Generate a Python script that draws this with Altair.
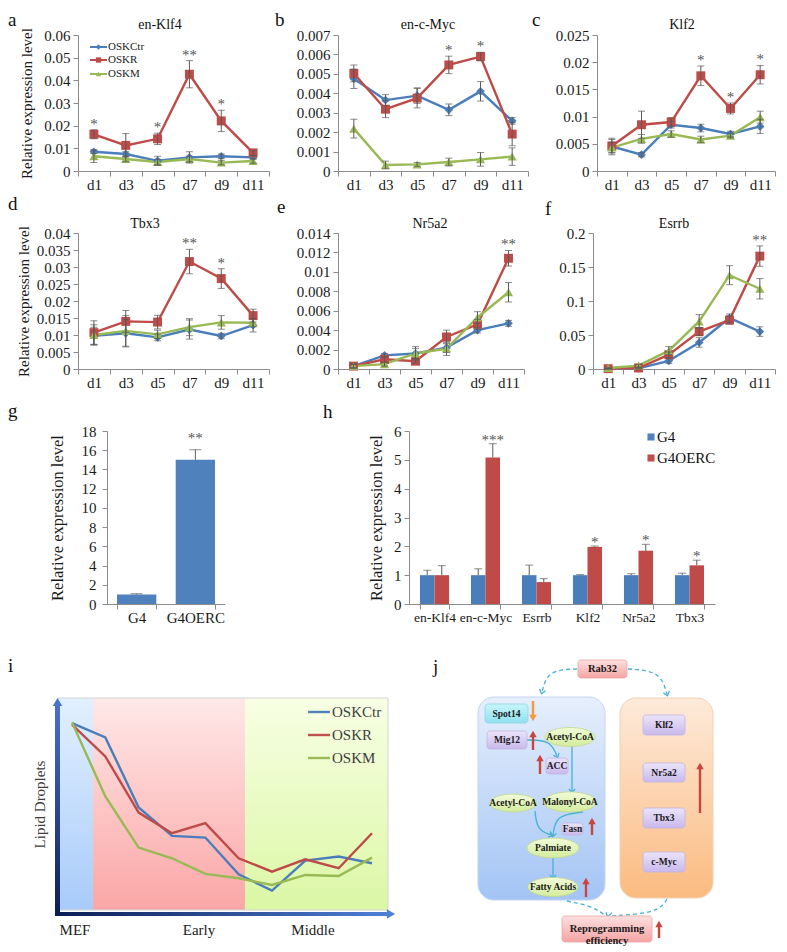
import math
import altair as alt
import pandas as pd

FONT = "Liberation Serif"

# ======================= DATA =======================
days = ["d1", "d3", "d5", "d7", "d9", "d11"]
series = ["OSKCtr", "OSKR", "OSKM"]

# a  en-Klf4
klf4_ctr = [0.0085, 0.0075, 0.0045, 0.0060, 0.0065, 0.0060]
klf4_r = [0.0162, 0.0113, 0.0142, 0.0427, 0.0221, 0.0080]
klf4_m = [0.0065, 0.0053, 0.0040, 0.0053, 0.0037, 0.0044]
klf4_ctr_err = [0.0008, 0.0010, 0.0020, 0.0025, 0.0010, 0.0008]
klf4_r_err = [0.0020, 0.0052, 0.0025, 0.0060, 0.0047, 0.0010]
klf4_m_err = [0.0028, 0.0012, 0.0012, 0.0012, 0.0010, 0.0010]
klf4_stars = ["*", "", "*", "**", "*", ""]
klf4_ticks = [0, 0.01, 0.02, 0.03, 0.04, 0.05, 0.06]

# b  en-c-Myc
myc_ctr = [0.00475, 0.00365, 0.00388, 0.00315, 0.00410, 0.00258]
myc_r = [0.00502, 0.00318, 0.00375, 0.00546, 0.00589, 0.00190]
myc_m = [0.00218, 0.00031, 0.00034, 0.00046, 0.00060, 0.00074]
myc_ctr_err = [0.0005, 0.00028, 0.0004, 0.0003, 0.0005, 0.00017]
myc_r_err = [0.00043, 0.00043, 0.0005, 0.00045, 0.00022, 0.0006]
myc_m_err = [0.00048, 0.0002, 0.0001, 0.0002, 0.00035, 0.00045]
myc_stars = ["", "", "", "*", "*", ""]
myc_ticks = [0, 0.001, 0.002, 0.003, 0.004, 0.005, 0.006, 0.007]

# c  Klf2
klf2_ctr = [0.0045, 0.0030, 0.0085, 0.0079, 0.0068, 0.0082]
klf2_r = [0.0046, 0.0085, 0.0090, 0.0175, 0.0115, 0.0177]
klf2_m = [0.0043, 0.0059, 0.0068, 0.0058, 0.0065, 0.0099]
klf2_ctr_err = [0.0015, 0.0004, 0.0006, 0.0007, 0.0005, 0.0013]
klf2_r_err = [0.0012, 0.0025, 0.0008, 0.0018, 0.0010, 0.0017]
klf2_m_err = [0.0010, 0.0008, 0.0006, 0.0006, 0.0004, 0.0011]
klf2_stars = ["", "", "", "*", "*", "*"]
klf2_ticks = [0, 0.005, 0.01, 0.015, 0.02, 0.025]

# d  Tbx3
tbx3_ctr = [0.0098, 0.0105, 0.0093, 0.0116, 0.0097, 0.0129]
tbx3_r = [0.0107, 0.0140, 0.0138, 0.0316, 0.0266, 0.0157]
tbx3_m = [0.0100, 0.0112, 0.0102, 0.0123, 0.0137, 0.0136]
tbx3_ctr_err = [0.0025, 0.0040, 0.0010, 0.0028, 0.0008, 0.0020]
tbx3_r_err = [0.0035, 0.0032, 0.0020, 0.0036, 0.0029, 0.0019]
tbx3_m_err = [0.0030, 0.0045, 0.0012, 0.0025, 0.0020, 0.0012]
tbx3_stars = ["", "", "", "**", "*", ""]
tbx3_ticks = [0, 0.005, 0.01, 0.015, 0.02, 0.025, 0.03, 0.035, 0.04]

# e  Nr5a2
nr5a2_ctr = [0.0003, 0.0014, 0.0016, 0.0022, 0.0040, 0.0047]
nr5a2_r = [0.0003, 0.0010, 0.0008, 0.0033, 0.0046, 0.0114]
nr5a2_m = [0.0003, 0.0005, 0.0016, 0.0021, 0.0053, 0.0079]
nr5a2_ctr_err = [0.0002, 0.0002, 0.0007, 0.0005, 0.0003, 0.0003]
nr5a2_r_err = [0.0002, 0.0003, 0.0002, 0.0007, 0.0005, 0.0008]
nr5a2_m_err = [0.0002, 0.0002, 0.0005, 0.0007, 0.0006, 0.0010]
nr5a2_stars = ["", "", "", "", "", "**"]
nr5a2_ticks = [0, 0.002, 0.004, 0.006, 0.008, 0.01, 0.012, 0.014]

# f  Esrrb
esrrb_ctr = [0.0005, 0.001, 0.012, 0.039, 0.075, 0.055]
esrrb_r = [0.0005, 0.0015, 0.021, 0.055, 0.072, 0.166]
esrrb_m = [0.0015, 0.005, 0.027, 0.070, 0.138, 0.118]
esrrb_ctr_err = [0.0005, 0.001, 0.004, 0.007, 0.006, 0.007]
esrrb_r_err = [0.0005, 0.001, 0.004, 0.006, 0.006, 0.015]
esrrb_m_err = [0.001, 0.002, 0.006, 0.010, 0.014, 0.015]
esrrb_stars = ["", "", "", "", "", "**"]
esrrb_ticks = [0, 0.05, 0.1, 0.15, 0.2]

# g
g_groups = ["G4", "G4OERC"]
g_vals = [1.0, 15.0]
g_errs = [0.07, 1.05]
g_stars = ["", "**"]
g_ticks = [0, 2, 4, 6, 8, 10, 12, 14, 16, 18]

# h
h_genes = ["en-Klf4", "en-c-Myc", "Esrrb", "Klf2", "Nr5a2", "Tbx3"]
h_groups = ["G4", "G4OERC"]
h_g4 = [1.0, 1.0, 1.0, 1.0, 1.0, 1.0]
h_g4_err = [0.17, 0.22, 0.35, 0.02, 0.05, 0.07]
h_oerc = [1.0, 5.08, 0.76, 1.98, 1.85, 1.34]
h_oerc_err = [0.33, 0.48, 0.12, 0.03, 0.22, 0.18]
h_stars = ["", "***", "", "*", "*", "*"]
h_ticks = [0, 1, 2, 3, 4, 5, 6]

# i  (schematic lipid droplet trend)
lipid_steps = [0, 1, 2, 3, 4, 5, 6, 7, 8, 9]
lipid_ctr = [56.0, 51.7, 30.7, 22.2, 21.7, 10.7, 5.8, 14.8, 16.0, 14.0]
lipid_r = [55.5, 46.0, 29.2, 23.0, 26.0, 15.5, 11.5, 15.2, 12.5, 23.0]
lipid_m = [56.2, 34.0, 18.7, 15.5, 10.8, 9.5, 7.5, 10.5, 10.2, 15.7]
stage_names = ["MEF", "Early", "Middle"]
stage_start = [-0.42, 0.63, 5.19]
stage_end = [0.63, 5.19, 9.48]
stage_label_at = [0.09, 3.81, 7.23]
lipid_top = 63.5

# j  (diagram)
j_panel_x1 = [58, 200]
j_panel_x2 = [185, 293]
j_panel_y1 = [47, 48]
j_panel_y2 = [250, 248]
j_box_names = ["Mig12", "ACC", "Fasn", "Klf2", "Nr5a2", "Tbx3", "c-Myc"]
j_box_x1 = [67, 126, 142, 223, 223, 223, 223]
j_box_x2 = [107, 148, 163, 265, 265, 265, 265]
j_box_y1 = [81, 108, 173, 65, 113, 158, 202]
j_box_y2 = [99, 124, 185, 85, 132, 178, 222]
j_cyan_names = ["Spot14"]
j_cyan_x1 = [65]
j_cyan_x2 = [108]
j_cyan_y1 = [54]
j_cyan_y2 = [73]
j_pink_names = ["Rab32", "Reprogramming\nefficiency"]
j_pink_x1 = [158, 142]
j_pink_x2 = [207, 232]
j_pink_y1 = [10, 266]
j_pink_y2 = [28, 292]
j_ell_names = ["Acetyl-CoA", "Acetyl-CoA", "Malonyl-CoA", "Palmiate", "Fatty Acids"]
j_ell_cx = [150, 93, 150, 133, 133]
j_ell_cy = [87, 153, 152, 198, 237]
j_ell_w = [50, 47, 53, 52, 50]
j_up_x = [113, 120, 172, 166, 280, 239]
j_up_tail = [100, 124, 185, 247, 163, 288]
j_up_head = [80, 104, 167, 227, 112, 270]
j_down_x = [113]
j_down_tail = [51]
j_down_head = [72]
j_curve_names = ["d1", "d2", "d3", "d4", "s1", "s2", "s3", "s4", "s5"]
j_curve_dashed = [True, True, True, True, False, False, False, False, False]
j_curve_x = [[157, 128, 122], [208, 240, 247], [147, 172, 186], [247, 238, 190],
             [107, 130, 137], [152, 152, 152], [115, 117, 131], [163, 136, 133], [133, 133, 133]]
j_curve_y = [[19, 20, 42], [19, 21, 44], [251, 256, 266], [249, 263, 266],
             [90, 90, 106], [96, 118, 141], [161, 180, 185], [162, 165, 185], [207, 217, 227]]

# ======================= STYLE =======================
BLUE, RED, GREEN = "#4a7ebb", "#be4b48", "#98b954"
SERIES_COLORS = [BLUE, RED, GREEN]
SHAPES = ["diamond", "square", "triangle-up"]
SIZES = [75, 85, 95]
BAR_BLUE, BAR_RED = "#4f81bd", "#c0504d"
ERRC = "#5a5a5a"
STARC = "#555555"
AXC = "#8c8c8c"
TXT = "#111111"
I_COLORS = ["#4f81bd", "#c0504d", "#9bbb59"]
CYAN = "#46b1d3"
ARROW_RED = "#c9453f"
ARROW_ORANGE = "#f59a3c"
ELLIPSE = "M-1,0A1,0.38,0,1,1,1,0A1,0.38,0,1,1,-1,0Z"
CHEVRON = "M-0.8,0.55L0,-0.45L0.8,0.55"
LETTER = 19


def vgrad(c1, c2):
    return {"gradient": "linear", "x1": 0, "y1": 0, "x2": 0, "y2": 1,
            "stops": [{"offset": 0, "color": c1}, {"offset": 1, "color": c2}]}


def hgrad(c1, c2):
    return {"gradient": "linear", "x1": 0, "y1": 0, "x2": 1, "y2": 0,
            "stops": [{"offset": 0, "color": c1}, {"offset": 1, "color": c2}]}


ONE = pd.DataFrame({"k": [0]})


def txt(text, x, y, size, align="left", weight="normal", color=TXT, baseline="alphabetic"):
    return alt.Chart(pd.DataFrame({"t": [text]})).mark_text(
        font=FONT, fontSize=size, align=align, baseline=baseline, fontWeight=weight, color=color
    ).encode(x=alt.value(x), y=alt.value(y), text="t:N")


def anchor(y):
    return alt.Chart(ONE).mark_point(size=0, opacity=0, strokeWidth=0, filled=True).encode(
        x=alt.value(0), y=alt.value(y))


def spacer(w):
    return anchor(0).properties(width=w, height=1)


def line_panel(title, vals, errs, stars, ticks, width, height, ytitle, tpad,
               letter, lx, ly, tx, ty, legend=False, anchor_y=None):
    rows = []
    for s, v, e in zip(series, vals, errs):
        for i, (d, vv, ee) in enumerate(zip(days, v, e)):
            rows.append({"day": d, "idx": i, "series": s, "value": vv,
                         "lo": max(vv - ee, 0), "hi": vv + ee})
    df = pd.DataFrame(rows)
    top = df.groupby("day")["hi"].max()
    sdf = pd.DataFrame({"day": days, "star": stars, "top": [top[d] for d in days]})
    sdf = sdf[sdf["star"] != ""]

    xenc = alt.X("day:N", sort=days,
                 scale=alt.Scale(type="band", domain=days, paddingInner=0, paddingOuter=0),
                 bandPosition=0.5,
                 axis=alt.Axis(title=None, labelAngle=0, tickBand="extent", labelPadding=1))
    yscale = alt.Scale(domain=[0, ticks[-1]], nice=False, zero=True)
    if ytitle:
        yaxis = alt.Axis(values=ticks, format="~g", title=ytitle, titlePadding=tpad,
                         labelOverlap=False)
    else:
        yaxis = alt.Axis(values=ticks, format="~g", title=None, labelOverlap=False)

    def Y(f):
        return alt.Y(f + ":Q", scale=yscale, axis=yaxis)

    color = alt.Color("series:N", scale=alt.Scale(domain=series, range=SERIES_COLORS), legend=None)
    shape = alt.Shape("series:N", scale=alt.Scale(domain=series, range=SHAPES), legend=None)
    size = alt.Size("series:N", scale=alt.Scale(domain=series, range=SIZES), legend=None)

    layers = [
        alt.Chart(df).mark_line(strokeWidth=2.4).encode(x=xenc, y=Y("value"), color=color,
                                                         order="idx:Q"),
        alt.Chart(df).mark_point(filled=True, opacity=1).encode(
            x=xenc, y=Y("value"), color=color, shape=shape, size=size),
        alt.Chart(df).mark_rule(color=ERRC, strokeWidth=1).encode(x=xenc, y=Y("lo"), y2="hi:Q"),
        alt.Chart(df).transform_fold(["lo", "hi"], as_=["cap", "capv"]).mark_tick(
            color=ERRC, thickness=1, size=7).encode(x=xenc, y=Y("capv")),
        alt.Chart(sdf).mark_text(font=FONT, fontSize=15, color=STARC, baseline="alphabetic",
                                 dy=-1).encode(x=xenc, y=Y("top"), text="star:N"),
        txt(title, tx, ty, 14, align="center"),
        txt(letter, lx, ly, LETTER),
    ]
    if legend:
        ly_rows = [12, 25, 39]
        for i, s in enumerate(series):
            layers.append(alt.Chart(ONE).mark_rule(color=SERIES_COLORS[i], strokeWidth=2).encode(
                x=alt.value(12), x2=alt.value(29), y=alt.value(ly_rows[i])))
            layers.append(alt.Chart(ONE).mark_point(shape=SHAPES[i], filled=True, opacity=1,
                                                    size=28, color=SERIES_COLORS[i]).encode(
                x=alt.value(20.5), y=alt.value(ly_rows[i])))
            layers.append(txt(s, 30, ly_rows[i], 11, baseline="middle", color="#222222"))
    if anchor_y is not None:
        layers.append(anchor(anchor_y))
    return alt.layer(*layers).properties(width=width, height=height)


# ---------------- rows 1-2 ----------------
pa = line_panel("en-Klf4", [klf4_ctr, klf4_r, klf4_m], [klf4_ctr_err, klf4_r_err, klf4_m_err],
                klf4_stars, klf4_ticks, 191, 136, "Relative expression level", 9,
                "a", -70, -9, 82, -6, legend=True, anchor_y=160)
pb = line_panel("en-c-Myc", [myc_ctr, myc_r, myc_m], [myc_ctr_err, myc_r_err, myc_m_err],
                myc_stars, myc_ticks, 190, 136, None, 0, "b", -63, -9, 90, -6)
pc = line_panel("Klf2", [klf2_ctr, klf2_r, klf2_m], [klf2_ctr_err, klf2_r_err, klf2_m_err],
                klf2_stars, klf2_ticks, 178, 136, None, 0, "c", -65, -9, 85, -6)
pd_ = line_panel("Tbx3", [tbx3_ctr, tbx3_r, tbx3_m], [tbx3_ctr_err, tbx3_r_err, tbx3_m_err],
                 tbx3_stars, tbx3_ticks, 191, 136, "Relative expression level", 5,
                 "d", -70, -23, 67, -5, anchor_y=169)
pe = line_panel("Nr5a2", [nr5a2_ctr, nr5a2_r, nr5a2_m], [nr5a2_ctr_err, nr5a2_r_err, nr5a2_m_err],
                nr5a2_stars, nr5a2_ticks, 186, 136, None, 0, "e", -61, -20, 92, -5)
pf = line_panel("Esrrb", [esrrb_ctr, esrrb_r, esrrb_m], [esrrb_ctr_err, esrrb_r_err, esrrb_m_err],
                esrrb_stars, esrrb_ticks, 182, 136, None, 0, "f", -48, -18, 81, -5)

# ---------------- g ----------------
gdf = pd.DataFrame({"grp": g_groups, "value": g_vals,
                    "hi": [v + e for v, e in zip(g_vals, g_errs)], "star": g_stars})
gx = alt.X("grp:N", sort=g_groups, scale=alt.Scale(paddingInner=0.33, paddingOuter=0.17),
           axis=alt.Axis(title=None, labelAngle=0, tickBand="extent", labelPadding=1))
gscale = alt.Scale(domain=[0, 18], nice=False)
gaxis = alt.Axis(values=g_ticks, title="Relative expression level", titleFontSize=16.5,
                 titlePadding=16, labelPadding=6, labelOverlap=False)
g_chart = alt.layer(
    alt.Chart(gdf).mark_bar(color=BAR_BLUE).encode(x=gx, y=alt.Y("value:Q", scale=gscale, axis=gaxis)),
    alt.Chart(gdf).mark_rule(color=ERRC).encode(x=gx, y=alt.Y("value:Q", scale=gscale, axis=gaxis), y2="hi:Q"),
    alt.Chart(gdf).mark_tick(color=ERRC, thickness=1, size=12).encode(
        x=gx, y=alt.Y("hi:Q", scale=gscale, axis=gaxis)),
    alt.Chart(gdf[gdf["star"] != ""]).mark_text(font=FONT, fontSize=15, color=STARC,
                                                 baseline="alphabetic", dy=-7).encode(
        x=gx, y=alt.Y("hi:Q", scale=gscale, axis=gaxis), text="star:N"),
    txt("g", -99, -14, LETTER),
    anchor(226),
).properties(width=118, height=173)

# ---------------- h ----------------
hrows = []
for gi, (grp, vals, errs) in enumerate(zip(h_groups, [h_g4, h_oerc], [h_g4_err, h_oerc_err])):
    for k, gene in enumerate(h_genes):
        hrows.append({"gene": gene, "grp": grp, "value": vals[k], "hi": vals[k] + errs[k],
                      "star": h_stars[k] if gi == 1 else ""})
hdf = pd.DataFrame(hrows)
hx = alt.X("gene:N", sort=h_genes, scale=alt.Scale(paddingInner=0.43, paddingOuter=0.215),
           axis=alt.Axis(title=None, labelAngle=0, tickBand="extent", labelPadding=1,
                         labelFontSize=13.5))
hxo = alt.XOffset("grp:N", sort=h_groups,
                  scale=alt.Scale(domain=h_groups, paddingInner=0, paddingOuter=0))
hscale = alt.Scale(domain=[0, 6], nice=False)
haxis = alt.Axis(values=h_ticks, title="Relative expression level", titleFontSize=16.5,
                 titlePadding=9, labelPadding=3, labelOverlap=False)
hcolor = alt.Color("grp:N", scale=alt.Scale(domain=h_groups, range=[BAR_BLUE, BAR_RED]), legend=None)
h_layers = [
    alt.Chart(hdf).mark_bar().encode(x=hx, xOffset=hxo, y=alt.Y("value:Q", scale=hscale, axis=haxis),
                                     color=hcolor),
    alt.Chart(hdf).mark_rule(color=ERRC).encode(x=hx, xOffset=hxo,
                                                y=alt.Y("value:Q", scale=hscale, axis=haxis), y2="hi:Q"),
    alt.Chart(hdf).mark_tick(color=ERRC, thickness=1, size=8).encode(
        x=hx, xOffset=hxo, y=alt.Y("hi:Q", scale=hscale, axis=haxis)),
    alt.Chart(hdf[hdf["star"] != ""]).mark_text(font=FONT, fontSize=15, color=STARC,
                                                 baseline="alphabetic", dy=1).encode(
        x=hx, xOffset=hxo, y=alt.Y("hi:Q", scale=hscale, axis=haxis), text="star:N"),
    txt("h", -86, -13, LETTER),
]
for i, (grp, col) in enumerate(zip(h_groups, [BAR_BLUE, BAR_RED])):
    yy = [6, 27][i]
    h_layers.append(alt.Chart(ONE).mark_point(shape="square", filled=True, opacity=1, size=50,
                                              color=col).encode(x=alt.value(242), y=alt.value(yy)))
    h_layers.append(txt(grp, 248, yy, 15, baseline="middle"))
h_chart = alt.layer(*h_layers).properties(width=306, height=173)

# ---------------- i ----------------
I_W, I_H = 330, 212
idf = pd.DataFrame([{"step": st, "series": s, "value": v, "ord": k}
                    for s, vals in zip(series, [lipid_ctr, lipid_r, lipid_m])
                    for k, (st, v) in enumerate(zip(lipid_steps, vals))])
sdf_i = pd.DataFrame({"stage": stage_names, "start": stage_start, "end": stage_end,
                      "at": stage_label_at})
ixs = alt.Scale(domain=[stage_start[0], stage_end[-1]], nice=False, zero=False)
iys = alt.Scale(domain=[0, lipid_top], nice=False)
bg_grads = [vgrad("#e2f0ff", "#a8cbfa"), vgrad("#ffe8e8", "#fba6a6"), vgrad("#f8ffe4", "#dbf7a5")]
i_layers = []
for k in range(3):
    i_layers.append(alt.Chart(sdf_i.iloc[[k]]).mark_rect(fill=bg_grads[k]).encode(
        x=alt.X("start:Q", scale=ixs, axis=None), x2="end:Q", y=alt.value(0), y2=alt.value(I_H)))
i_layers.append(alt.Chart(sdf_i.iloc[[0]]).mark_rect(fill=None, stroke="#d4d4d4", strokeWidth=1).encode(
    x=alt.X("start:Q", scale=ixs, axis=None), x2=alt.X2(datum=stage_end[-1]),
    y=alt.value(0), y2=alt.value(I_H)))
i_layers.append(alt.Chart(idf).mark_line(strokeWidth=2.4).encode(
    x=alt.X("step:Q", scale=ixs, axis=None),
    y=alt.Y("value:Q", scale=iys,
            axis=alt.Axis(title="Lipid Droplets", domain=False, ticks=False, labels=False,
                          titlePadding=11, titleFontSize=15, titleColor="#404040")),
    color=alt.Color("series:N", scale=alt.Scale(domain=series, range=I_COLORS), legend=None),
    order="ord:Q"))
i_layers.append(alt.Chart(ONE).mark_rect(fill=vgrad("#4a72c9", "#0b1d55")).encode(
    x=alt.value(-3), x2=alt.value(2), y=alt.value(5), y2=alt.value(218)))
i_layers.append(alt.Chart(ONE).mark_rect(fill=hgrad("#0b1d55", "#4f7fd6")).encode(
    x=alt.value(-3), x2=alt.value(331), y=alt.value(214), y2=alt.value(218)))
i_layers.append(alt.Chart(ONE).mark_point(shape="triangle-up", filled=True, opacity=1, size=90,
                                          color="#4a72c9").encode(x=alt.value(-0.5), y=alt.value(4)))
i_layers.append(alt.Chart(ONE).mark_point(shape="triangle-right", filled=True, opacity=1, size=90,
                                          color="#4f7fd6").encode(x=alt.value(333), y=alt.value(216)))
i_layers.append(alt.Chart(sdf_i).mark_text(font=FONT, fontSize=15, color="#222222",
                                           baseline="alphabetic").encode(
    x=alt.X("at:Q", scale=ixs, axis=None), y=alt.value(237), text="stage:N"))
for k, s in enumerate(series):
    yy = [14, 37, 60][k]
    i_layers.append(alt.Chart(ONE).mark_rule(color=I_COLORS[k], strokeWidth=2.4).encode(
        x=alt.value(250), x2=alt.value(272), y=alt.value(yy)))
    i_layers.append(txt(s, 274, yy, 15, baseline="middle", color="#404040"))
i_layers.append(txt("i", -50, -26, LETTER))
i_chart = alt.layer(*i_layers).properties(width=I_W, height=I_H)

# ---------------- j ----------------
J_W, J_H = 300, 212
jxs = alt.Scale(domain=[0, J_W], nice=False, zero=False)
jys = alt.Scale(domain=[48, 48 + J_H], nice=False, zero=False, reverse=True)


def JX(f):
    return alt.X(f, scale=jxs, axis=None)


def JY(f):
    return alt.Y(f, scale=jys, axis=None)


def rect_df(names, x1, x2, y1, y2):
    d = pd.DataFrame({"name": names, "x1": x1, "x2": x2, "y1": y1, "y2": y2})
    d["cx"] = (d["x1"] + d["x2"]) / 2
    d["cy"] = (d["y1"] + d["y2"]) / 2
    return d


j_layers = []
panels = rect_df(["left", "right"], j_panel_x1, j_panel_x2, j_panel_y1, j_panel_y2)
for k, (g, st) in enumerate([(vgrad("#e6effc", "#a3c4f5"), "#c4d5ee"),
                             (vgrad("#fdeada", "#fbbb80"), "#f0d2b4")]):
    j_layers.append(alt.Chart(panels.iloc[[k]]).mark_rect(cornerRadius=16, fill=g, stroke=st,
                                                          strokeWidth=1).encode(
        x=JX("x1:Q"), x2="x2:Q", y=JY("y1:Q"), y2="y2:Q"))

# curves
crow = []
for n, dsh, xs, ys in zip(j_curve_names, j_curve_dashed, j_curve_x, j_curve_y):
    for k, (xx, yy) in enumerate(zip(xs, ys)):
        crow.append({"curve": n, "dashed": dsh, "ord": k, "x": xx, "y": yy})
cdf = pd.DataFrame(crow)
heads = []
for n, dsh, xs, ys in zip(j_curve_names, j_curve_dashed, j_curve_x, j_curve_y):
    dx, dy = xs[-1] - xs[-2], ys[-1] - ys[-2]
    ang = math.degrees(math.atan2(dx, -dy)) % 360
    heads.append({"curve": n, "x": xs[-1], "y": ys[-1], "ang": ang})
hdf_j = pd.DataFrame(heads)
j_layers.append(alt.Chart(cdf[cdf["dashed"]]).mark_line(interpolate="basis", color=CYAN,
                                                         strokeWidth=1.3, strokeDash=[4, 3]).encode(
    x=JX("x:Q"), y=JY("y:Q"), detail="curve:N", order="ord:Q"))
j_layers.append(alt.Chart(cdf[~cdf["dashed"]]).mark_line(interpolate="basis", color=CYAN,
                                                          strokeWidth=1.3).encode(
    x=JX("x:Q"), y=JY("y:Q"), detail="curve:N", order="ord:Q"))
j_layers.append(alt.Chart(hdf_j).mark_point(shape=CHEVRON, filled=False, color=CYAN, size=60,
                                            strokeWidth=1.3, opacity=1).encode(
    x=JX("x:Q"), y=JY("y:Q"), angle=alt.Angle("ang:Q", scale=None)))

# nodes
boxes = rect_df(j_box_names, j_box_x1, j_box_x2, j_box_y1, j_box_y2)
cyans = rect_df(j_cyan_names, j_cyan_x1, j_cyan_x2, j_cyan_y1, j_cyan_y2)
pinks = rect_df(j_pink_names, j_pink_x1, j_pink_x2, j_pink_y1, j_pink_y2)
for d, g, st in [(boxes, vgrad("#ebe4fa", "#c9b9ec"), "#c2b4e2"),
                 (cyans, vgrad("#c8f6fb", "#8fe0ef"), "#8fd6e6"),
                 (pinks, vgrad("#fde0e0", "#f5a3a3"), "#eea5a5")]:
    j_layers.append(alt.Chart(d).mark_rect(cornerRadius=3, fill=g, stroke=st, strokeWidth=0.8).encode(
        x=JX("x1:Q"), x2="x2:Q", y=JY("y1:Q"), y2="y2:Q"))
ells = pd.DataFrame({"name": j_ell_names, "cx": j_ell_cx, "cy": j_ell_cy, "w": j_ell_w})
ells["sz"] = ells["w"] ** 2
j_layers.append(alt.Chart(ells).mark_point(shape=ELLIPSE, filled=True, opacity=1,
                                           fill=vgrad("#f2fbd9", "#d3ec9d"), stroke="#bfd88c",
                                           strokeWidth=0.8).encode(
    x=JX("cx:Q"), y=JY("cy:Q"), size=alt.Size("sz:Q", scale=None)))
labels = pd.concat([boxes[["name", "cx", "cy"]], cyans[["name", "cx", "cy"]], ells[["name", "cx", "cy"]]])
j_layers.append(alt.Chart(labels).mark_text(font=FONT, fontSize=9.5, fontWeight="bold", color="#1a1a1a",
                                            baseline="middle").encode(
    x=JX("cx:Q"), y=JY("cy:Q"), text="name:N"))
j_layers.append(alt.Chart(pinks).mark_text(font=FONT, fontSize=10.5, fontWeight="bold", color="#1a1a1a",
                                           baseline="middle", lineBreak="\n", lineHeight=12).encode(
    x=JX("cx:Q"), y=JY("cy:Q"), text="name:N"))

# arrows
up = pd.DataFrame({"x": j_up_x, "tail": j_up_tail, "head": j_up_head})
up["hc"] = up["head"] + 4
down = pd.DataFrame({"x": j_down_x, "tail": j_down_tail, "head": j_down_head})
down["hc"] = down["head"] - 4
for d, col, shp in [(up, ARROW_RED, "triangle-up"), (down, ARROW_ORANGE, "triangle-down")]:
    j_layers.append(alt.Chart(d).mark_rule(color=col, strokeWidth=2.4).encode(
        x=JX("x:Q"), y=JY("tail:Q"), y2="hc:Q"))
    j_layers.append(alt.Chart(d).mark_point(shape=shp, filled=True, opacity=1, color=col, size=55).encode(
        x=JX("x:Q"), y=JY("hc:Q")))
j_layers.append(txt("j", 13, -25, LETTER))
j_chart = alt.layer(*j_layers).properties(width=J_W, height=J_H)

# ======================= LAYOUT =======================
row1 = alt.hconcat(spacer(1), pa, pb, pc, spacing=69, bounds="flush")
row2 = alt.hconcat(spacer(1), pd_, pe, pf, spacing=69, bounds="flush")
row3 = alt.hconcat(spacer(50), g_chart, spacer(86), h_chart, spacing=49, bounds="flush")
row4 = alt.hconcat(spacer(18), i_chart, j_chart, spacing=32, bounds="flush")

chart = alt.vconcat(row1, row2, row3, row4, spacing=0).properties(
    padding={"left": 0, "top": 3, "right": 0, "bottom": 0}
).configure_view(stroke=None).configure_axis(
    domainColor=AXC, tickColor=AXC, labelFont=FONT, titleFont=FONT, labelFontSize=15,
    titleFontSize=15, labelColor="#1a1a1a", titleColor="#1a1a1a", titleFontWeight="normal",
    grid=False, tickSize=5, labelPadding=3
)

chart.save("out.html", embed_options={"renderer": "svg", "actions": False})
